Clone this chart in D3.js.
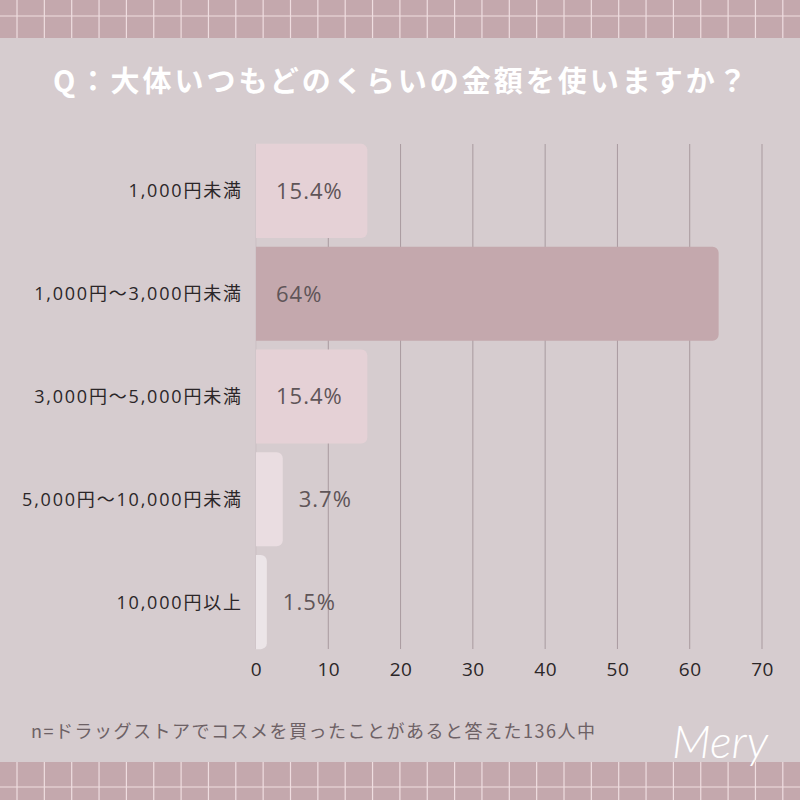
<!DOCTYPE html>
<html><head><meta charset="utf-8">
<script src="https://cdn.jsdelivr.net/npm/d3@7"></script>
<style>html,body{margin:0;padding:0;background:#d6cccf;}svg{display:block;}</style>
</head><body>
<svg id="chart" width="800" height="800"></svg>
<script>
const title = "Q：大体いつもどのくらいの金額を使いますか？";
const categories = ["1,000円未満","1,000円〜3,000円未満","3,000円〜5,000円未満","5,000円〜10,000円未満","10,000円以上"];
const values = [15.4, 64, 15.4, 3.7, 1.5];
const valueLabels = ["15.4%","64%","15.4%","3.7%","1.5%"];
const ticks = [0,10,20,30,40,50,60,70];
const note = "n=ドラッグストアでコスメを買ったことがあると答えた136人中";
const brand = "Mery";

const barColors = ["#e5d1d6","#c4a8ad","#e5d1d6","#eadde1","#ece5e8"];
const svg = d3.select("#chart");
const W = 800, H = 800;

svg.append("rect").attr("width",W).attr("height",H).attr("fill","#d6cccf");

// decorative grid bands
function band(y0, y1, hy){
  const g = svg.append("g");
  g.append("rect").attr("x",0).attr("y",y0).attr("width",W).attr("height",y1-y0).attr("fill","#c4a8ad");
  g.append("line").attr("x1",0).attr("x2",W).attr("y1",hy).attr("y2",hy).attr("stroke","#efdde0").attr("stroke-width",1.2);
  for(let x=17; x<W; x+=27.35){
    g.append("line").attr("x1",x).attr("x2",x).attr("y1",y0).attr("y2",y1).attr("stroke","#efdde0").attr("stroke-width",1.2);
  }
}
band(0, 38, 16);
band(762, 800, 787);

svg.append("text").attr("x",400+1.5).attr("y",92).attr("text-anchor","middle")
  .attr("font-family","'Noto Sans CJK JP'").attr("font-weight",700).attr("font-size",29)
  .attr("letter-spacing",3).attr("fill","#ffffff").text(title);

const x = d3.scaleLinear().domain([0,70]).range([256,762]);
const y = d3.scaleBand().domain(categories).range([139.5,653.5]).paddingInner(0.085).paddingOuter(0.0425);

// grid lines
svg.append("g").selectAll("line").data(ticks).join("line")
  .attr("x1",d=>x(d)).attr("x2",d=>x(d)).attr("y1",144).attr("y2",649)
  .attr("stroke",d=>d===0?"#cbbfc3":"#a99a9f").attr("stroke-width",1);

// bars with right rounded corners
const r = 6;
function barPath(x0,y0,w,h){
  const rr = Math.min(r, w, h/2);
  return `M${x0},${y0}H${x0+w-rr}A${rr},${rr} 0 0 1 ${x0+w},${y0+rr}V${y0+h-rr}A${rr},${rr} 0 0 1 ${x0+w-rr},${y0+h}H${x0}Z`;
}
svg.append("g").selectAll("path").data(values).join("path")
  .attr("d",(d,i)=>barPath(x(0), y(categories[i]), x(d)-x(0), y.bandwidth()))
  .attr("fill",(d,i)=>barColors[i]);

// value labels
svg.append("g").selectAll("text").data(values).join("text")
  .attr("x",(d,i)=> (x(d)-x(0) > 80) ? x(0)+20 : x(d)+16)
  .attr("y",(d,i)=>y(categories[i])+y.bandwidth()/2)
  .attr("dy","0.36em")
  .attr("font-family","'Open Sans'").attr("font-size",22).attr("letter-spacing",1).attr("fill","#5f5558")
  .text((d,i)=>valueLabels[i]);

// category labels
svg.append("g").selectAll("text").data(categories).join("text")
  .attr("x",241+1.8).attr("y",d=>y(d)+y.bandwidth()/2).attr("dy","0.36em")
  .attr("text-anchor","end").attr("font-family","'Open Sans','Noto Sans CJK JP'").attr("font-size",18)
  .attr("letter-spacing",1.8).attr("fill","#2b2628").text(d=>d);

// x axis tick labels
const axis = d3.axisBottom(x).tickValues(ticks).tickSize(0).tickPadding(0);
const ag = svg.append("g").attr("transform","translate(0,659)").call(axis);
ag.select(".domain").remove();
ag.selectAll("text").attr("font-family","'Open Sans'").attr("font-size",19).attr("letter-spacing",0.5)
  .attr("fill","#2b2628").attr("dy","0.9em");

// note
svg.append("text").attr("x",31).attr("y",738)
  .attr("font-family","'Noto Sans CJK JP'").attr("font-size",18).attr("letter-spacing",1.5)
  .attr("fill","#6d6165").text(note);

// brand
svg.append("text").attr("x",720).attr("y",758).attr("text-anchor","middle")
  .attr("font-family","Lato").attr("font-style","italic").attr("font-weight",300)
  .attr("font-size",46).attr("fill","#ffffff").text(brand);
</script>
</body></html>
